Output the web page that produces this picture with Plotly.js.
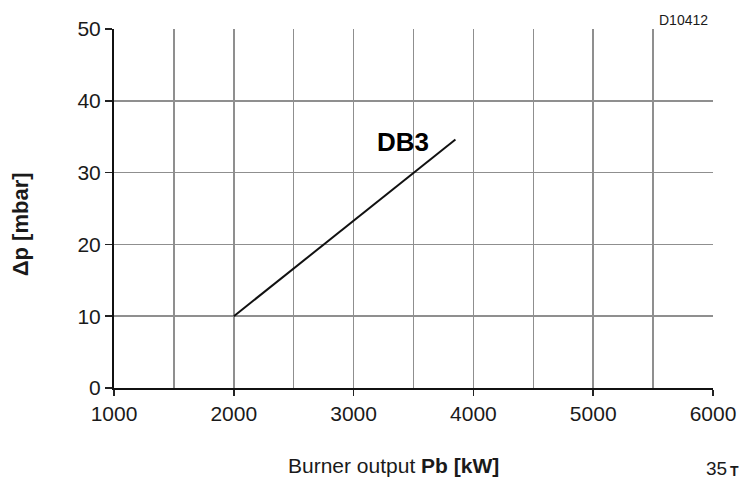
<!DOCTYPE html>
<html>
<head>
<meta charset="utf-8">
<script src="https://cdn.plot.ly/plotly-3.0.1.min.js"></script>
<style>
html,body{margin:0;padding:0;background:#fff;}
#chart{width:744px;height:479px;}
</style>
</head>
<body>
<div id="chart"></div>
<script>
// Data
const burnerOutput = [2000, 3850];   // kW
const pressureDrop = [10, 34.6];     // mbar
const xTickVals = [1000, 2000, 3000, 4000, 5000, 6000];
const xTickText = ["1000", "2000", "3000", "4000", "5000", "6000"];
const yTickVals = [0, 10, 20, 30, 40, 50];
const yTickText = ["0", "10", "20", "30", "40", "50"];
const curveName = "DB3";
const curveLabelPos = [3410, 34.2];

const FONT = "Liberation Sans, Arial, sans-serif";
const TXT = "#1a1a1a";
const GRID = "#8f8f8f";

const trace = {
  x: burnerOutput,
  y: pressureDrop,
  type: "scatter",
  mode: "lines",
  line: {color: "#111", width: 2},
  hoverinfo: "skip",
  showlegend: false
};

const layout = {
  width: 744,
  height: 479,
  margin: {l: 114, r: 31.3, t: 29, b: 90.7, pad: 0},
  paper_bgcolor: "#fff",
  plot_bgcolor: "#fff",
  font: {family: FONT, color: TXT, size: 21},
  showlegend: false,
  xaxis: {
    range: [1000, 6000],
    tickmode: "array",
    tickvals: xTickVals,
    ticktext: xTickText,
    ticks: "outside",
    ticklen: 6,
    tickwidth: 1.5,
    tickcolor: "#222",
    tickfont: {family: FONT, size: 21, color: TXT},
    showgrid: true,
    gridcolor: GRID,
    gridwidth: 1.5,
    minor: {dtick: 500, showgrid: true, gridcolor: GRID, gridwidth: 1.5, ticks: ""},
    showline: true,
    linecolor: "#111",
    linewidth: 2,
    zeroline: false,
    fixedrange: true
  },
  yaxis: {
    range: [0, 50],
    tickmode: "array",
    tickvals: yTickVals,
    ticktext: yTickText,
    ticks: "outside",
    ticklen: 7,
    tickwidth: 1.5,
    tickcolor: "#222",
    tickfont: {family: FONT, size: 21, color: TXT},
    showgrid: true,
    gridcolor: GRID,
    gridwidth: 1.5,
    showline: true,
    linecolor: "#111",
    linewidth: 2,
    zeroline: false,
    fixedrange: true
  },
  annotations: [
    {text: "D10412", xref: "paper", yref: "paper", x: 0.9955, y: 1.0264,
     xanchor: "right", yanchor: "middle", showarrow: false,
     font: {family: FONT, size: 14, color: TXT}},
    {text: "<b>" + curveName + "</b>", xref: "x", yref: "y",
     x: curveLabelPos[0], y: curveLabelPos[1],
     xanchor: "center", yanchor: "middle", showarrow: false,
     font: {family: FONT, size: 26, color: "#000"}},
    {text: "<b>\u0394p [mbar]</b>", xref: "paper", yref: "paper",
     x: -0.157, y: 0.456, textangle: -90,
     xanchor: "center", yanchor: "middle", showarrow: false,
     font: {family: FONT, size: 22, color: TXT}},
    {text: "Burner output <b>Pb [kW]</b>", xref: "paper", yref: "paper",
     x: 0.466, y: -0.216, xanchor: "center", yanchor: "middle", showarrow: false,
     font: {family: FONT, size: 21, color: TXT}},
    {text: "35", xref: "paper", yref: "paper",
     x: 1.0055, y: -0.2246, xanchor: "center", yanchor: "middle", showarrow: false,
     font: {family: FONT, size: 19, color: TXT}},
    {text: "<b>T</b>", xref: "paper", yref: "paper",
     x: 1.036, y: -0.232, xanchor: "center", yanchor: "middle", showarrow: false,
     font: {family: FONT, size: 14, color: TXT}}
  ]
};

Plotly.newPlot("chart", [trace], layout, {staticPlot: true, displayModeBar: false});
</script>
</body>
</html>
